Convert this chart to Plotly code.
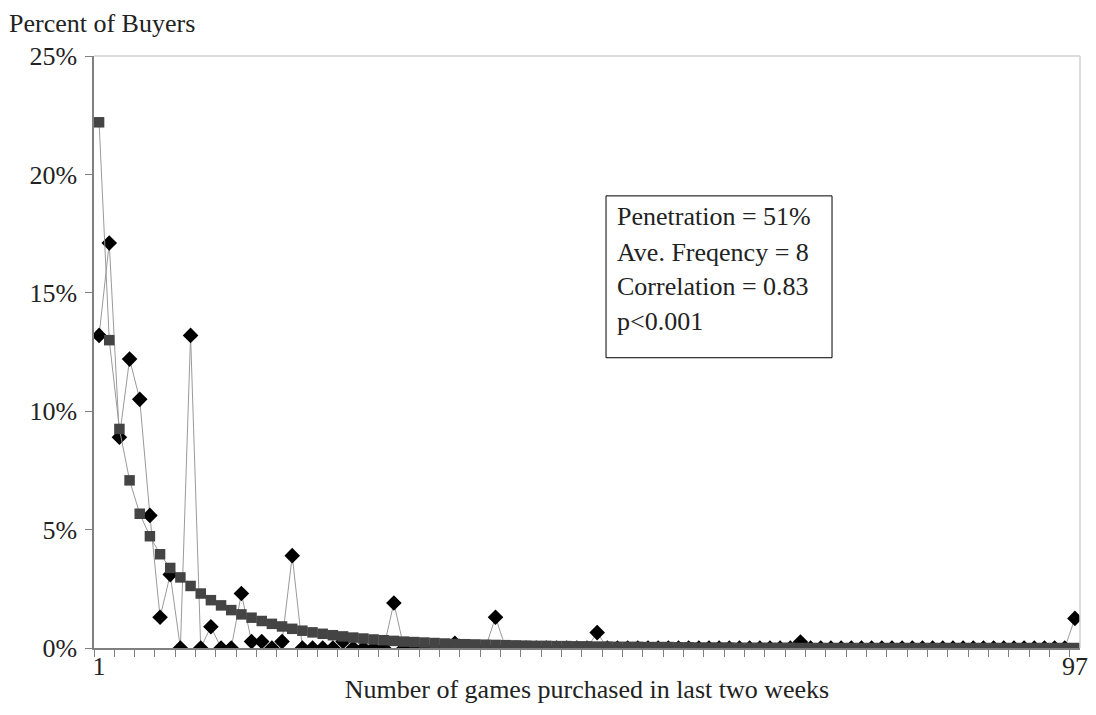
import plotly.graph_objects as go

# Number of games purchased (categories 1..97)
games = list(range(1, 98))

# Observed percent of buyers (diamonds)
observed = [
    13.2, 17.1, 8.9, 12.2, 10.5, 5.6, 1.3, 3.1, 0.0, 13.2,
    0.0, 0.9, 0.0, 0.0, 2.3, 0.27, 0.27, 0.0, 0.27, 3.9,
    0.0, 0.0, 0.0, 0.0, 0.27, 0.0, 0.0, 0.0, 0.0, 1.9,
    0.0, 0.0, 0.0, 0.0, 0.0, 0.2, 0.0, 0.0, 0.0, 1.3,
    0.0, 0.0, 0.0, 0.0, 0.0, 0.0, 0.0, 0.0, 0.0, 0.65,
    0.0, 0.0, 0.0, 0.0, 0.0, 0.0, 0.0, 0.0, 0.0, 0.0,
    0.0, 0.0, 0.0, 0.0, 0.0, 0.0, 0.0, 0.0, 0.0, 0.25,
    0.0, 0.0, 0.0, 0.0, 0.0, 0.0, 0.0, 0.0, 0.0, 0.0,
    0.0, 0.0, 0.0, 0.0, 0.0, 0.0, 0.0, 0.0, 0.0, 0.0,
    0.0, 0.0, 0.0, 0.0, 0.0, 0.0, 1.25,
]

# Fitted (NBD) percent of buyers (squares)
fitted = [
    22.2, 13.0, 9.25, 7.08, 5.67, 4.72, 3.96, 3.38, 2.98, 2.62,
    2.3, 2.02, 1.8, 1.6, 1.42, 1.28, 1.14, 1.02, 0.91, 0.81,
    0.73, 0.66, 0.6, 0.54, 0.49, 0.44, 0.4, 0.36, 0.33, 0.3,
    0.27, 0.25, 0.23, 0.21, 0.19, 0.17, 0.16, 0.15, 0.14, 0.13,
    0.12, 0.11, 0.1, 0.09, 0.09, 0.08, 0.08, 0.07, 0.07, 0.06,
    0.06, 0.05, 0.05, 0.05, 0.04, 0.04, 0.04, 0.03, 0.03, 0.02,
    0.02, 0.02, 0.02, 0.01, 0.01, 0.01, 0.01, 0.01, 0.01, 0.0,
    0.0, 0.0, 0.0, 0.0, 0.0, 0.0, 0.0, 0.0, 0.0, 0.0,
    0.0, 0.0, 0.0, 0.0, 0.0, 0.0, 0.0, 0.0, 0.0, 0.0,
    0.0, 0.0, 0.0, 0.0, 0.0, 0.0, 0.0,
]

y_ticks = [0, 5, 10, 15, 20, 25]
y_tick_text = ["0%", "5%", "10%", "15%", "20%", "25%"]
x_tick_vals = [1, 97]
x_tick_text = ["1", "97"]
stats_lines = ["Penetration = 51%", "Ave. Freqency = 8", "Correlation = 0.83", "p<0.001"]

FONT = "Liberation Serif, Times New Roman, serif"
TXT = "#222222"
FS = 26

fig = go.Figure()
fig.add_trace(go.Scatter(
    x=games, y=observed, mode="lines+markers",
    line=dict(color="#9a9a9a", width=1),
    marker=dict(symbol="diamond", size=12, color="#000000"),
    showlegend=False,
))
fig.add_trace(go.Scatter(
    x=games, y=fitted, mode="lines+markers",
    line=dict(color="#9a9a9a", width=1),
    marker=dict(symbol="square", size=10.5, color="#444444"),
    showlegend=False,
))

# page body adds an 8px offset, so the figure is sized 8px smaller
fig.update_layout(
    width=1088, height=707,
    margin=dict(l=86, r=16, t=48, b=66.5),
    paper_bgcolor="white", plot_bgcolor="white",
    font=dict(family=FONT, size=FS, color=TXT),
    xaxis=dict(
        range=[0.5, 97.5], tickmode="array", tickvals=x_tick_vals, ticktext=x_tick_text,
        ticks="", showgrid=False, zeroline=False, automargin=False,
        showline=True, linecolor="#808080", linewidth=1.5,
        mirror=False, ticklabelstandoff=-6,
        tickfont=dict(size=FS),
        minor=dict(tickmode="linear", tick0=0.5, dtick=2, ticks="outside", ticklen=7,
                   tickcolor="#808080", tickwidth=1, showgrid=False),
        title=dict(text="Number of games purchased in last two weeks", font=dict(size=FS), standoff=0),
    ),
    yaxis=dict(
        range=[0, 25], tickmode="array", tickvals=y_ticks, ticktext=y_tick_text,
        ticks="outside", ticklen=7, tickcolor="#808080", automargin=False,
        showgrid=False, zeroline=False,
        showline=True, linecolor="#808080", linewidth=1.5,
        ticklabelstandoff=3, tickfont=dict(size=FS),
    ),
    shapes=[
        dict(type="line", xref="paper", yref="paper", x0=0, x1=1, y0=1, y1=1,
             line=dict(color="#d0d0d0", width=1.5)),
        dict(type="line", xref="paper", yref="paper", x0=1, x1=1, y0=0, y1=1,
             line=dict(color="#d0d0d0", width=1.5)),
        dict(type="rect", xref="paper", yref="paper", x0=0.5193, x1=0.7485, y0=0.4903, y1=0.7637,
             line=dict(color="#000000", width=1), fillcolor="white", layer="below"),
    ],
)

fig.add_annotation(text="Percent of Buyers", xref="paper", yref="paper", x=-0.088, y=1.0557,
                   xanchor="left", yanchor="middle", showarrow=False, font=dict(size=FS))

line_ys = [0.7288, 0.6675, 0.6106, 0.5516]
for txt, yy in zip(stats_lines, line_ys):
    fig.add_annotation(text=txt, xref="paper", yref="paper", x=0.5284, y=yy,
                       xanchor="left", yanchor="middle", showarrow=False, font=dict(size=FS))

fig.write_html("out.html")
